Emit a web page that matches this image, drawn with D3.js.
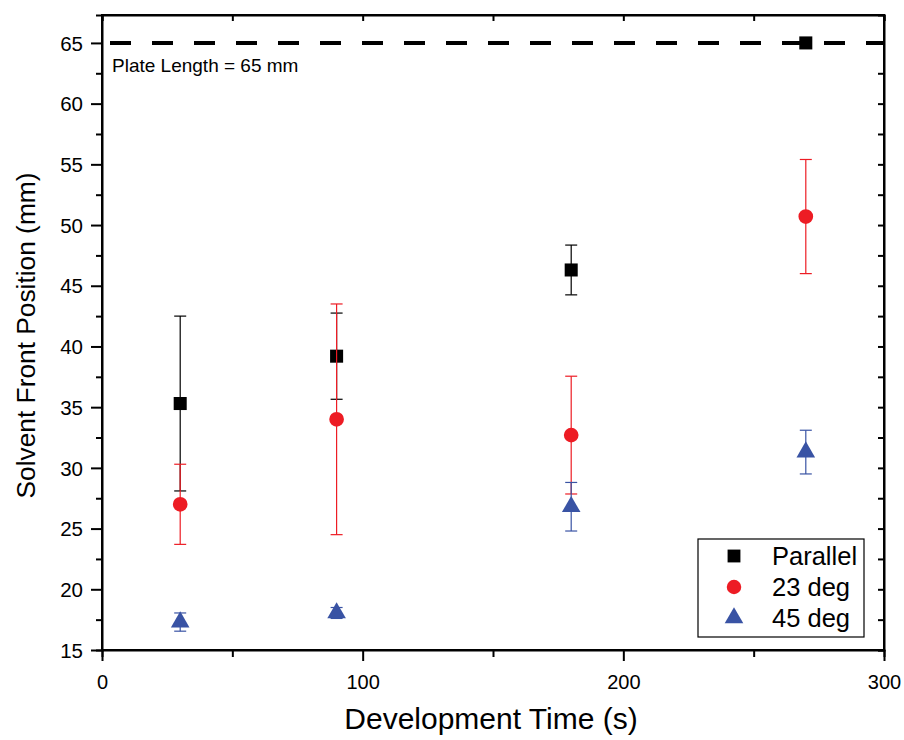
<!DOCTYPE html>
<html>
<head>
<meta charset="utf-8">
<script src="https://cdn.jsdelivr.net/npm/d3@7"></script>
<style>
  body { margin: 0; background: #fff; }
  svg text { font-family: "Liberation Sans", Arial, sans-serif; fill: #000; }
</style>
</head>
<body>
<svg id="chart"></svg>
<script>
// Data
const times = [30, 90, 180, 270];
const parallel = [35.3, 39.2, 46.3, 65.0];
const parallelErr = [7.2, 3.55, 2.05, 0];
const deg23 = [27.0, 34.0, 32.7, 50.7];
const deg23Err = [3.3, 9.5, 4.85, 4.7];
const deg45 = [17.3, 18.05, 26.8, 31.3];
const deg45Err = [0.75, 0.45, 2.0, 1.8];
const xTicks = [0, 100, 200, 300];
const yTicks = [15, 20, 25, 30, 35, 40, 45, 50, 55, 60, 65];
const plateLength = 65;

const series = [
  { name: "Parallel", values: parallel, err: parallelErr, color: "#000000", shape: d3.symbolSquare },
  { name: "23 deg", values: deg23, err: deg23Err, color: "#ED1C24", shape: d3.symbolCircle },
  { name: "45 deg", values: deg45, err: deg45Err, color: "#3953A4", shape: d3.symbolTriangle }
];

const width = 904, height = 740;
const margin = { top: 15, right: 20, bottom: 90, left: 102 };

const svg = d3.select("#chart").attr("width", width).attr("height", height);

const x = d3.scaleLinear().domain([0, 300]).range([margin.left, width - margin.right]);
const y = d3.scaleLinear().domain([15, 67.3]).range([height - margin.bottom, margin.top]);

const minorX = d3.range(0, 301, 50);
const minorY = d3.range(15, 67.3, 2.5);

// bottom axis
const gx = svg.append("g")
  .attr("transform", `translate(0,${y.range()[0]})`);
gx.call(d3.axisBottom(x).tickValues(minorX).tickSize(7).tickFormat(""));
gx.call(g => g.selectAll(".tick").filter(d => xTicks.includes(d)).select("line").attr("y2", 11));
gx.selectAll(".tick").filter(d => xTicks.includes(d)).append("text")
  .attr("y", 25).attr("dy", "0.71em").attr("text-anchor", "middle")
  .style("font-size", "20px").text(d => d);

// left axis
const gy = svg.append("g")
  .attr("transform", `translate(${margin.left},0)`);
gy.call(d3.axisLeft(y).tickValues(minorY).tickSize(6).tickFormat(""));
gy.call(g => g.selectAll(".tick").filter(d => yTicks.includes(d)).select("line").attr("x2", -11));
gy.selectAll(".tick").filter(d => yTicks.includes(d)).append("text")
  .attr("x", -19).attr("dy", "0.35em").attr("text-anchor", "end")
  .style("font-size", "20.5px").text(d => d);

// top axis (inward ticks)
svg.append("g")
  .attr("transform", `translate(0,${margin.top})`)
  .call(d3.axisTop(x).tickValues(minorX).tickSize(-6).tickFormat(""));

// right axis (inward ticks)
svg.append("g")
  .attr("transform", `translate(${width - margin.right},0)`)
  .call(d3.axisRight(y).tickValues(minorY).tickSize(-6).tickFormat(""));

svg.selectAll(".domain, .tick line").attr("stroke", "#000").attr("stroke-width", 2);

// frame
svg.append("rect")
  .attr("x", margin.left).attr("y", margin.top)
  .attr("width", x.range()[1] - margin.left)
  .attr("height", y.range()[0] - margin.top)
  .attr("fill", "none").attr("stroke", "#000").attr("stroke-width", 2);

// plate length line
svg.append("line")
  .attr("x1", x(0)).attr("x2", x(300))
  .attr("y1", y(plateLength)).attr("y2", y(plateLength))
  .attr("stroke", "#000").attr("stroke-width", 4)
  .attr("stroke-dasharray", "21,21").attr("stroke-dashoffset", -8);

svg.append("text")
  .attr("x", x(0) + 10).attr("y", y(plateLength) + 29)
  .style("font-size", "19px").text("Plate Length = 65 mm");

// error bars and markers
const cap = 6;
series.forEach(s => {
  const pts = times.map((t, i) => ({ t, v: s.values[i], e: s.err[i] }));
  const g = svg.append("g");
  const eb = g.selectAll(".eb").data(pts.filter(p => p.e > 0)).enter().append("g")
    .attr("stroke", s.color).attr("stroke-width", 1.2);
  eb.append("line")
    .attr("x1", p => x(p.t)).attr("x2", p => x(p.t))
    .attr("y1", p => y(p.v - p.e)).attr("y2", p => y(p.v + p.e));
  eb.append("line")
    .attr("x1", p => x(p.t) - cap).attr("x2", p => x(p.t) + cap)
    .attr("y1", p => y(p.v + p.e)).attr("y2", p => y(p.v + p.e));
  eb.append("line")
    .attr("x1", p => x(p.t) - cap).attr("x2", p => x(p.t) + cap)
    .attr("y1", p => y(p.v - p.e)).attr("y2", p => y(p.v - p.e));
  g.selectAll(".pt").data(pts).enter().append("path")
    .attr("transform", p => `translate(${x(p.t)},${y(p.v)})`)
    .attr("d", d3.symbol().type(s.shape).size(s.shape === d3.symbolTriangle ? 150 : 170))
    .attr("fill", s.color);
});

// legend
const legend = svg.append("g").attr("transform", "translate(698,539)");
legend.append("rect")
  .attr("width", 166).attr("height", 98)
  .attr("fill", "#fff").attr("stroke", "#000").attr("stroke-width", 1.2);
series.forEach((s, i) => {
  const row = legend.append("g").attr("transform", `translate(0,${17 + i * 31})`);
  row.append("path")
    .attr("transform", "translate(36,0)")
    .attr("d", d3.symbol().type(s.shape).size(s.shape === d3.symbolTriangle ? 150 : 165))
    .attr("fill", s.color);
  row.append("text")
    .attr("x", 74).attr("dy", "0.35em")
    .style("font-size", "25.5px").text(s.name);
});

// axis titles
svg.append("text")
  .attr("x", x(150) - 2).attr("y", 729)
  .attr("text-anchor", "middle")
  .style("font-size", "30px").text("Development Time (s)");

svg.append("text")
  .attr("transform", `translate(35,${(margin.top + y.range()[0]) / 2 + 3}) rotate(-90)`)
  .attr("text-anchor", "middle")
  .style("font-size", "26.3px").text("Solvent Front Position (mm)");
</script>
</body>
</html>
